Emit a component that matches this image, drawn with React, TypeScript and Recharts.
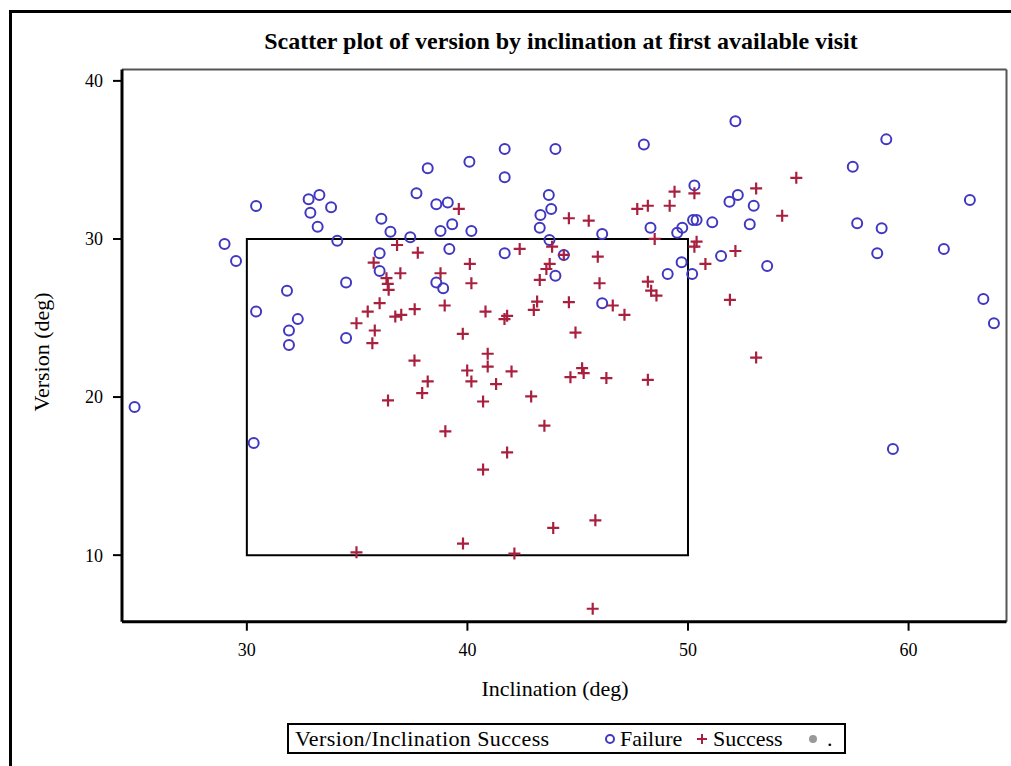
import { ScatterChart, Scatter, XAxis, YAxis, ReferenceArea, ReferenceLine } from "recharts"

// [inclination, version] pairs
const failurePoints: [number, number][] = [
  [24.91, 19.37], [28.99, 29.68], [29.51, 28.61], [30.31, 17.09], [30.42, 32.08],
  [30.42, 25.41], [31.82, 26.72], [31.91, 24.21], [31.91, 23.3], [32.31, 24.93],
  [32.8, 32.51], [32.88, 31.66], [33.21, 30.78], [33.29, 32.78], [33.82, 32.0],
  [34.1, 29.89], [34.5, 27.24], [34.5, 23.73], [36.02, 29.1], [36.02, 27.98],
  [36.1, 31.28], [36.51, 30.46], [37.41, 30.11], [37.69, 32.89], [38.2, 34.47],
  [38.59, 32.19], [39.11, 32.3], [38.78, 30.51], [39.31, 30.93], [40.18, 30.51],
  [39.18, 29.37], [38.59, 27.24], [38.9, 26.88], [40.09, 34.88], [41.69, 35.69],
  [41.69, 33.9], [43.99, 35.69], [41.69, 29.1], [43.69, 32.78], [43.8, 31.9],
  [43.31, 31.52], [43.28, 30.71], [43.72, 29.94], [44.37, 28.99], [43.99, 27.68],
  [46.11, 30.32], [46.11, 25.94], [48.0, 35.98], [48.3, 30.71], [49.08, 27.79],
  [49.71, 28.53], [49.51, 30.4], [49.74, 30.71], [50.19, 27.79], [50.23, 31.2],
  [50.39, 31.2], [50.29, 33.39], [51.1, 31.05], [51.5, 28.93], [51.88, 32.36],
  [52.26, 32.78], [52.15, 37.45], [52.98, 32.1], [52.8, 30.93], [53.59, 28.29],
  [57.47, 34.57], [58.99, 36.3], [57.67, 30.99], [58.78, 30.68], [58.58, 29.1],
  [59.29, 16.72], [61.6, 29.37], [62.78, 32.46], [63.39, 26.21], [63.87, 24.67],
]

const successPoints: [number, number][] = [
  [34.97, 24.67], [34.97, 10.18], [35.48, 25.41], [35.69, 23.41], [35.75, 28.5],
  [35.8, 24.21], [36.02, 25.94], [36.33, 27.52], [36.39, 27.16], [36.43, 26.78],
  [36.4, 19.79], [36.73, 25.09], [36.81, 29.62], [36.96, 27.83], [37.0, 25.2],
  [37.61, 25.56], [37.6, 22.31], [37.75, 29.13], [37.95, 20.25], [38.2, 20.99],
  [38.78, 27.83], [38.97, 25.79], [39.0, 17.83], [39.61, 31.9], [39.79, 24.0],
  [39.8, 10.73], [39.99, 21.68], [40.11, 28.42], [40.18, 27.2], [40.18, 20.99],
  [40.71, 19.72], [40.71, 15.41], [40.82, 25.41], [40.92, 22.74], [40.92, 21.93],
  [41.3, 20.82], [41.68, 24.93], [41.8, 25.14], [41.8, 16.5], [42.0, 21.62],
  [42.13, 10.1], [42.37, 29.37], [42.89, 20.04], [43.01, 25.51], [43.16, 26.04],
  [43.28, 27.41], [43.49, 18.19], [43.58, 28.1], [43.73, 28.42], [43.84, 29.51],
  [43.89, 11.72], [44.37, 28.99], [44.6, 31.31], [44.6, 26.0], [44.67, 21.26],
  [44.9, 24.08], [45.2, 21.83], [45.27, 21.52], [45.5, 31.16], [45.68, 6.61],
  [45.8, 12.2], [45.91, 28.88], [45.99, 27.2], [46.3, 21.2], [46.59, 25.79],
  [47.12, 25.2], [47.7, 31.9], [48.18, 32.1], [48.18, 27.3], [48.18, 21.09],
  [48.33, 26.73], [48.49, 30.0], [48.57, 26.42], [49.17, 32.1], [49.39, 32.99],
  [50.29, 32.89], [50.29, 29.51], [50.39, 29.83], [50.79, 28.42], [51.9, 26.15],
  [52.15, 29.24], [53.09, 33.2], [53.09, 22.5], [54.27, 31.47], [54.91, 33.87],
]

const xTicks = [30, 40, 50, 60]
const yTicks = [10, 20, 30, 40]
const xDomain: [number, number] = [24.34, 64.44]
const yDomain: [number, number] = [5.79, 40.72]
// target zone drawn as an open box
const zone = { x1: 30, x2: 50, y1: 10, y2: 30 }

const BLUE = "#4038c0"
const RED = "#a8203e"
const FONT = '"Liberation Serif", "Times New Roman", serif'

const failureData = failurePoints.map(([x, y]) => ({ x, y }))
const successData = successPoints.map(([x, y]) => ({ x, y }))

const Ring = (p: any) => (
  <circle cx={p.cx} cy={p.cy} r={5} fill="none" stroke={BLUE} strokeWidth={2} />
)

const Cross = (p: any) => (
  <path
    d={`M${p.cx - 6},${p.cy}H${p.cx + 6}M${p.cx},${p.cy - 6}V${p.cy + 6}`}
    stroke={RED}
    strokeWidth={2.2}
    fill="none"
  />
)

const tickStyle = { fill: "#000", fontSize: 18, fontFamily: FONT }

const abs = (left: number, extra = {}) => ({
  position: "absolute" as const,
  left,
  top: "50%",
  transform: "translateY(-50%)",
  lineHeight: 1,
  ...extra,
})

export default function App() {
  return (
    <div
      style={{
        position: "absolute",
        left: 0,
        top: 0,
        width: 1011,
        height: 766,
        background: "#fff",
        fontFamily: FONT,
        overflow: "hidden",
      }}
    >
      {/* outer frame (top + left) */}
      <div
        style={{
          position: "absolute",
          left: 9,
          top: 10,
          width: 1011,
          height: 766,
          borderTop: "3px solid #000",
          borderLeft: "3px solid #000",
        }}
      />
      <div
        style={{
          position: "absolute",
          left: 161,
          top: 28,
          width: 800,
          textAlign: "center",
          fontSize: 24,
          fontWeight: "bold",
        }}
      >
        Scatter plot of version by inclination at first available visit
      </div>

      <div style={{ position: "absolute", left: 0, top: 0 }}>
        <ScatterChart
          width={1011}
          height={766}
          margin={{ top: 69.5, right: 4.5, bottom: 84.3, left: 62 }}
        >
          <XAxis
            type="number"
            dataKey="x"
            domain={xDomain}
            ticks={xTicks}
            allowDataOverflow
            height={60}
            axisLine={{ stroke: "#000", strokeWidth: 3 }}
            tickLine={{ stroke: "#000", strokeWidth: 2 }}
            tickSize={9}
            tickMargin={13}
            tick={tickStyle}
          />
          <YAxis
            type="number"
            dataKey="y"
            domain={yDomain}
            ticks={yTicks}
            allowDataOverflow
            width={60}
            axisLine={{ stroke: "#000", strokeWidth: 3 }}
            tickLine={{ stroke: "#000", strokeWidth: 2 }}
            tickSize={9}
            tickMargin={10}
            tick={tickStyle}
          />
          <ReferenceLine y={yDomain[1]} stroke="#555" strokeWidth={2} />
          <ReferenceLine x={xDomain[1]} stroke="#555" strokeWidth={2} />
          <ReferenceArea
            x1={zone.x1}
            x2={zone.x2}
            y1={zone.y1}
            y2={zone.y2}
            fill="none"
            fillOpacity={0}
            stroke="#000"
            strokeWidth={2}
          />
          <Scatter
            name="Failure"
            data={failureData}
            shape={Ring}
            isAnimationActive={false}
          />
          <Scatter
            name="Success"
            data={successData}
            shape={Cross}
            isAnimationActive={false}
          />
        </ScatterChart>
      </div>

      <div style={{ position: "absolute", left: 42, top: 352, width: 0, height: 0 }}>
        <div
          style={{
            position: "absolute",
            left: 0,
            top: 0,
            transform: "translate(-50%, -50%) rotate(-90deg)",
            whiteSpace: "nowrap",
            fontSize: 22,
            lineHeight: 1,
          }}
        >
          Version (deg)
        </div>
      </div>

      <div
        style={{
          position: "absolute",
          left: 355,
          top: 676,
          width: 400,
          textAlign: "center",
          fontSize: 22,
        }}
      >
        Inclination (deg)
      </div>

      {/* legend */}
      <div
        style={{
          position: "absolute",
          left: 287,
          top: 723,
          width: 555,
          height: 27,
          border: "2px solid #000",
          fontSize: 22,
          whiteSpace: "nowrap",
        }}
      >
        <span style={abs(6, { letterSpacing: 0.4 })}>Version/Inclination Success</span>
        <svg width={12} height={12} style={abs(315)}>
          <circle cx={6} cy={6} r={4} fill="none" stroke={BLUE} strokeWidth={2} />
        </svg>
        <span style={abs(331)}>Failure</span>
        <svg width={12} height={12} style={abs(407)}>
          <path d="M1,6H11M6,1V11" stroke={RED} strokeWidth={2} />
        </svg>
        <span style={abs(424)}>Success</span>
        <svg width={12} height={12} style={abs(518)}>
          <circle cx={6} cy={6} r={4} fill="#999" />
        </svg>
        <span style={abs(538)}>.</span>
      </div>
    </div>
  )
}
